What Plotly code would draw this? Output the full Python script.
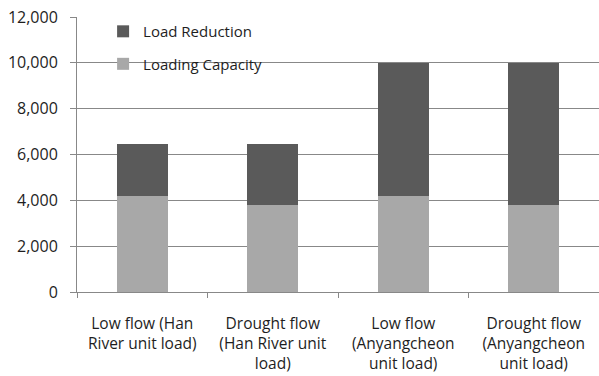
import plotly.graph_objects as go

categories = [
    "Low flow (Han<br>River unit load)",
    "Drought flow<br>(Han River unit<br>load)",
    "Low flow<br>(Anyangcheon<br>unit load)",
    "Drought flow<br>(Anyangcheon<br>unit load)",
]
loading_capacity = [4190, 3810, 4190, 3810]
load_reduction = [2250, 2630, 5810, 6190]
y_ticks = [0, 2000, 4000, 6000, 8000, 10000, 12000]
y_tick_labels = ["0", "2,000", "4,000", "6,000", "8,000", "10,000", "12,000"]

font_family = "Open Sans"
text_color = "#1e1e1e"

fig = go.Figure()
fig.add_trace(go.Bar(
    x=categories, y=loading_capacity, name="Loading Capacity",
    marker=dict(color="#a8a8a8", line=dict(width=0)),
    legendgroup="cap", legendrank=2,
))
fig.add_trace(go.Bar(
    x=categories, y=load_reduction, name="Load Reduction",
    marker=dict(color="#5a5a5a", line=dict(width=0)),
    legendgroup="red", legendrank=1,
))

fig.update_layout(
    barmode="stack",
    bargap=0.61,
    width=599, height=376,
    margin=dict(l=77, r=0, t=17, b=84),
    paper_bgcolor="white", plot_bgcolor="white",
    font=dict(family=font_family, size=15, color=text_color),
    legend=dict(
        x=0.05, y=1.007, xanchor="left", yanchor="top",
        traceorder="grouped", tracegroupgap=10,
        bgcolor="rgba(0,0,0,0)",
        font=dict(family=font_family, size=15, color=text_color),
        itemwidth=30,
    ),
    xaxis=dict(
        showline=True, linecolor="#888888", linewidth=1,
        ticks="outside", tickson="boundaries", ticklen=5, tickcolor="#888888",
        tickfont=dict(family=font_family, size=15.5, color=text_color),
        showgrid=False,
        ticklabelstandoff=17,
    ),
    yaxis=dict(
        range=[0, 12000], tickvals=y_ticks, ticktext=y_tick_labels,
        showline=True, linecolor="#888888", linewidth=1,
        ticks="outside", ticklen=6, tickcolor="#888888",
        showgrid=True, gridcolor="#888888", gridwidth=1,
        zeroline=False,
        tickfont=dict(family=font_family, size=16, color=text_color),
        ticklabelstandoff=9,
    ),
)

fig.write_html("out.html")
